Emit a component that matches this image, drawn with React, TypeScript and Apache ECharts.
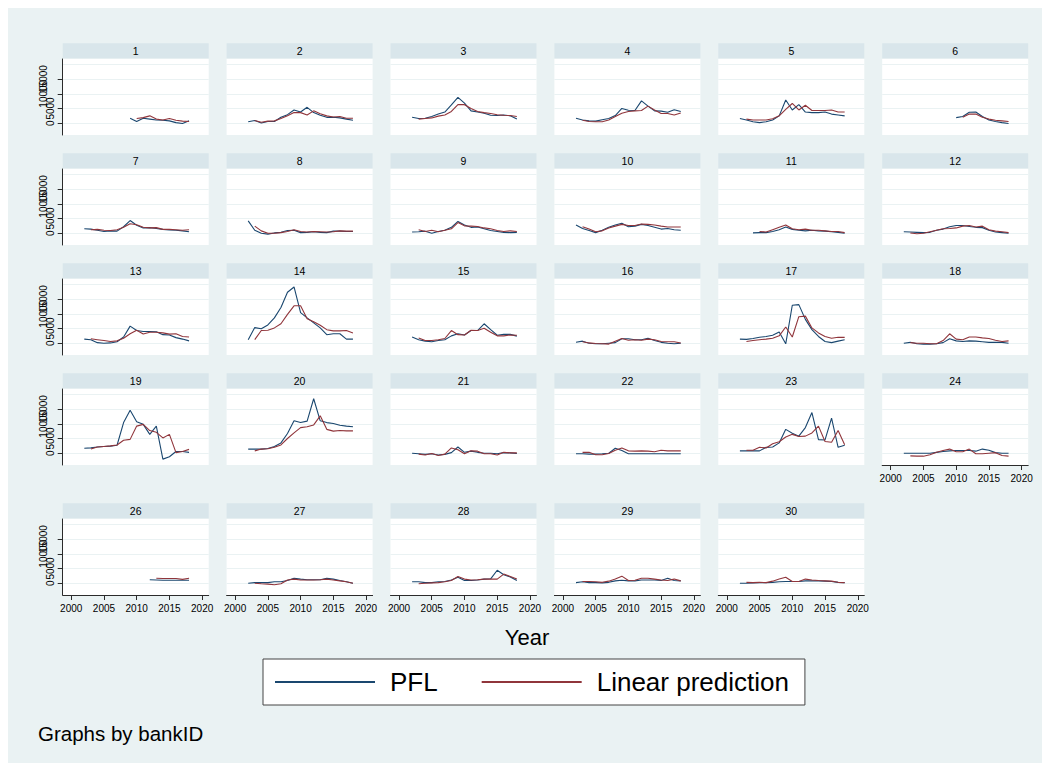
import { useEffect, useRef } from "react";
import * as echarts from "echarts";

// ---------- data ----------
const years = [2002, 2003, 2004, 2005, 2006, 2007, 2008, 2009, 2010, 2011, 2012, 2013, 2014, 2015, 2016, 2017, 2018];
const panelIds = [1, 2, 3, 4, 5, 6, 7, 8, 9, 10, 11, 12, 13, 14, 15, 16, 17, 18, 19, 20, 21, 22, 23, 24, 26, 27, 28, 29, 30];
const xTickValues = [2000, 2005, 2010, 2015, 2020];
const yTickValues = [0, 5000, 10000, 15000, 20000];
const seriesNames = ["PFL", "Linear prediction"];

const N = null;
const pfl01 = [N, N, N, N, N, N, N, 1700, 600, 1700, 1400, 1100, 1000, 800, 200, -100, 800];
const pred01 = [N, N, N, N, N, N, N, N, 1600, 1900, 2500, 1400, 1100, 1600, 1000, 700, 600];
const pfl02 = [500, 900, 100, 600, 600, 2000, 2900, 4500, 3800, 5400, 3600, 2700, 2000, 2000, 1800, 1400, 1000];
const pred02 = [N, 900, 300, 700, 800, 1600, 2500, 3600, 3600, 2800, 4200, 3200, 2500, 2100, 2300, 1700, 1700];
const pfl03 = [2000, 1600, 1700, 2300, 3100, 3800, 6200, 8800, 6800, 4200, 3800, 3400, 2700, 2600, 2800, 2500, 1400];
const pred03 = [N, 1400, 1600, 1800, 2400, 2800, 4000, 6300, 6300, 5000, 4000, 3600, 3300, 2900, 2700, 2600, 2300];
const pfl04 = [1700, 1100, 800, 700, 1200, 1600, 2600, 5000, 4400, 4300, 7600, 5800, 4200, 4100, 3700, 4600, 4000];
const pred04 = [N, 1000, 600, 500, 500, 1100, 2300, 3400, 4000, 4200, 4300, 5800, 4500, 3300, 3300, 2800, 3500];
const pfl05 = [1600, 1100, 500, 200, 500, 1100, 2500, 7900, 4500, 6300, 3800, 3600, 3600, 3800, 3100, 2800, 2500];
const pred05 = [N, 1400, 1100, 1100, 1100, 1500, 2500, 4700, 6700, 4500, 6100, 4300, 4300, 4300, 4500, 3800, 3800];
const pfl06 = [N, N, N, N, N, N, N, N, 1900, 2300, 3700, 3800, 2300, 1100, 600, 200, -100];
const pred06 = [N, N, N, N, N, N, N, N, N, 2000, 3100, 3100, 2000, 1400, 1000, 800, 600];
const pfl07 = [1500, 1400, 1000, 600, 800, 700, 2200, 4300, 2700, 1800, 1900, 1600, 1300, 1100, 1000, 800, 500];
const pred07 = [N, 1200, 1300, 1000, 900, 1200, 2000, 3200, 2900, 2000, 1800, 1900, 1300, 1300, 1200, 1000, 1200];
const pfl08 = [4200, 1000, 0, -300, 100, 300, 900, 1000, 200, 300, 500, 300, 200, 700, 700, 600, 600];
const pred08 = [N, 2400, 800, 0, 0, 200, 600, 1200, 600, 400, 600, 500, 400, 500, 800, 700, 700];
const pfl09 = [400, 500, 700, 0, 600, 1000, 2000, 4000, 2800, 2000, 2100, 1500, 900, 600, 300, 200, 300];
const pred09 = [N, 1200, 600, 1000, 500, 1000, 1500, 3600, 2500, 2400, 2300, 1800, 1500, 900, 600, 800, 600];
const pfl10 = [2800, 1600, 900, 200, 1000, 2000, 2800, 3400, 2200, 2400, 3000, 2600, 2000, 1400, 1600, 1200, 1000];
const pred10 = [N, 2200, 1400, 500, 800, 1800, 2400, 3000, 2600, 2600, 3100, 3000, 2800, 2400, 2100, 2100, 2100];
const pfl11 = [N, N, 100, 200, 200, 600, 1200, 2100, 1300, 1000, 800, 1000, 800, 700, 500, 300, 0];
const pred11 = [N, N, N, 600, 400, 1200, 2000, 2800, 1500, 1200, 1400, 1000, 1000, 800, 600, 600, 200];
const pfl12 = [500, 400, 300, 200, 300, 1000, 1400, 2200, 2600, 2600, 2300, 2000, 1900, 1000, 400, 200, 0];
const pred12 = [N, 100, -200, 0, 500, 1000, 1500, 1600, 1800, 2400, 2600, 2100, 2400, 1200, 700, 500, 200];
const pfl13 = [1400, 1200, 200, 0, 100, 500, 2100, 5800, 4300, 4000, 4000, 3900, 2900, 2800, 1900, 1400, 800];
const pred13 = [N, 1500, 1200, 900, 600, 800, 1700, 3200, 4400, 3100, 3700, 3700, 3500, 3100, 3200, 2300, 2100];
const pfl14 = [1200, 5300, 4900, 6200, 8600, 12100, 17300, 19100, 10400, 8600, 6900, 5200, 2900, 3200, 3200, 1400, 1400];
const pred14 = [N, 1200, 4300, 4400, 5200, 6600, 9800, 12700, 12700, 8300, 7300, 6100, 4600, 4200, 4200, 4300, 3500];
const pfl15 = [2100, 1200, 700, 500, 900, 1200, 2500, 3200, 2800, 4300, 4300, 6600, 4600, 2700, 3000, 3000, 2400];
const pred15 = [N, 1800, 900, 900, 1200, 1600, 4300, 2900, 2800, 4400, 4300, 5100, 3700, 2500, 2500, 2800, 2700];
const pfl16 = [300, 700, 0, -200, -200, 0, 200, 1500, 1500, 1200, 1200, 1700, 900, 300, 0, -200, 0];
const pred16 = [N, 500, 100, -100, -200, -300, 700, 1600, 1000, 1200, 1000, 1400, 1200, 600, 500, 500, 100];
const pfl17 = [1400, 1300, 1600, 2000, 2300, 2700, 3800, -200, 12900, 13100, 8100, 4600, 2300, 600, 200, 700, 1200];
const pred17 = [N, 600, 900, 1200, 1400, 1700, 2500, 5500, 2100, 9000, 9200, 5200, 3500, 2300, 1700, 2000, 2000];
const pfl18 = [0, 300, -200, -300, -300, -200, 200, 1500, 800, 600, 800, 700, 500, 300, 300, 300, 0];
const pred18 = [N, 200, 0, 0, -200, -200, 900, 3200, 1400, 1200, 2100, 2100, 1800, 1600, 1000, 600, 800];
const pfl19 = [1700, 1800, 2100, 2300, 2400, 2700, 10400, 14600, 10700, 9800, 6400, 9200, -2000, -1200, 600, 600, 300];
const pred19 = [N, 1400, 2100, 2300, 2500, 2800, 4400, 4700, 9200, 9800, 7700, 7100, 5200, 6400, 200, 600, 1300];
const pfl20 = [1400, 1400, 1400, 1600, 2300, 3500, 6700, 11000, 10400, 10900, 18500, 11000, 10400, 10100, 9500, 9200, 9000];
const pred20 = [N, 800, 1400, 1500, 2000, 2800, 5000, 6900, 8700, 9000, 9600, 12700, 8100, 7500, 7700, 7600, 7600];
const pfl21 = [0, -200, -400, -200, -600, -400, 200, 2100, 300, 700, 300, 0, 0, -200, 200, 100, -100];
const pred21 = [N, -300, -600, -100, -800, -300, 1800, 1200, -200, 800, 700, -200, -200, -600, 300, 100, 100];
const pfl22 = [-200, -200, -300, -300, -200, 0, 1700, 900, -200, -200, -200, -200, -200, -200, -200, -200, -200];
const pred22 = [N, 300, 300, -500, -500, -100, 1000, 1800, 800, 700, 800, 700, 500, 1000, 800, 800, 800];
const pfl23 = [800, 800, 800, 800, 2000, 2100, 3500, 8100, 6800, 5800, 8700, 13800, 4600, 4500, 11900, 2000, 2700];
const pred23 = [N, 1000, 1000, 2000, 1800, 3200, 3900, 5500, 6400, 5700, 5800, 6900, 9200, 4000, 3700, 7700, 2900];
const pfl24 = [0, 0, 0, 0, 0, 300, 600, 800, 900, 900, 900, 700, 1400, 1000, 200, 0, 0];
const pred24 = [N, -900, -1000, -1000, -500, 300, 900, 1400, 500, 500, 1400, -200, -200, 0, 200, -800, -1000];
const pfl26 = [N, N, N, N, N, N, N, N, N, N, 1200, 1100, 1000, 1000, 1000, 1000, 1000];
const pred26 = [N, N, N, N, N, N, N, N, N, N, N, 1700, 1600, 1600, 1600, 1300, 1700];
const pfl27 = [0, 200, 200, 200, 500, 500, 900, 1700, 1400, 1200, 1200, 1200, 1700, 1400, 900, 500, 0];
const pred27 = [N, 0, -200, -300, -500, -200, 1100, 1400, 1100, 1100, 1100, 1200, 1400, 1100, 800, 500, 0];
const pfl28 = [500, 500, 200, 200, 500, 600, 1100, 2000, 900, 900, 1100, 1400, 1500, 4400, 2900, 2100, 900];
const pred28 = [N, -200, 0, 100, 200, 500, 900, 2300, 1400, 1100, 1200, 1400, 1400, 1400, 3100, 2300, 1400];
const pfl29 = [200, 500, 200, 200, 100, 300, 800, 1000, 800, 800, 1100, 1100, 1100, 900, 1700, 900, 800];
const pred29 = [N, 600, 600, 500, 300, 700, 1400, 2400, 900, 1000, 1700, 1700, 1400, 1100, 900, 1400, 800];
const pfl30 = [0, 0, 100, 200, 200, 300, 500, 600, 600, 600, 800, 800, 800, 700, 600, 300, 200];
const pred30 = [N, 300, 200, 300, 200, 700, 1400, 2000, 600, 600, 1400, 1100, 900, 800, 700, 300, 200];

const pflByPanel: Record<number, (number | null)[]> = {
  1: pfl01, 2: pfl02, 3: pfl03, 4: pfl04, 5: pfl05, 6: pfl06, 7: pfl07, 8: pfl08, 9: pfl09, 10: pfl10,
  11: pfl11, 12: pfl12, 13: pfl13, 14: pfl14, 15: pfl15, 16: pfl16, 17: pfl17, 18: pfl18, 19: pfl19, 20: pfl20,
  21: pfl21, 22: pfl22, 23: pfl23, 24: pfl24, 26: pfl26, 27: pfl27, 28: pfl28, 29: pfl29, 30: pfl30,
};
const predByPanel: Record<number, (number | null)[]> = {
  1: pred01, 2: pred02, 3: pred03, 4: pred04, 5: pred05, 6: pred06, 7: pred07, 8: pred08, 9: pred09, 10: pred10,
  11: pred11, 12: pred12, 13: pred13, 14: pred14, 15: pred15, 16: pred16, 17: pred17, 18: pred18, 19: pred19, 20: pred20,
  21: pred21, 22: pred22, 23: pred23, 24: pred24, 26: pred26, 27: pred27, 28: pred28, 29: pred29, 30: pred30,
};

// ---------- style / layout ----------
const FONT = '"Liberation Sans", Arial, Helvetica, sans-serif';
const BG = "rgb(234,242,243)";
const HEADER_BG = "rgb(217,230,235)";
const GRID_LINE = "rgb(234,242,243)";
const NAVY = "#1a476f";
const MAROON = "#90353b";
const AXIS = "#2b2b2b";

const COL0 = 54.7;
const COL_PITCH = 163.9;
const PANEL_W = 146;
const HEADER_TOPS = [35.3, 145.3, 255.3, 365.3, 495.3];
const HEADER_H = 15;
const PLOT_OFFSET = 15.7;
const PLOT_H = 76;

function panelPos(n: number) {
  if (n <= 24) return { row: Math.floor((n - 1) / 6), col: (n - 1) % 6 };
  return { row: 4, col: n - 26 };
}

function toPairs(vals: (number | null)[]) {
  const out: [number, number][] = [];
  vals.forEach((v, i) => {
    if (v !== null) out.push([years[i], v]);
  });
  return out;
}

function buildOption() {
  const grid: any[] = [];
  const xAxis: any[] = [];
  const yAxis: any[] = [];
  const series: any[] = [];
  const graphic: any[] = [];

  panelIds.forEach((n, k) => {
    const { row, col } = panelPos(n);
    const left = COL0 + col * COL_PITCH;
    const headerTop = HEADER_TOPS[row];
    const top = headerTop + PLOT_OFFSET;
    const isLeft = col === 0;
    const isBottom = n >= 26 || n === 24;

    grid.push({
      left, top, width: PANEL_W, height: PLOT_H,
      show: true, backgroundColor: "#ffffff", borderWidth: 0, containLabel: false,
    });

    xAxis.push({
      type: "value", gridIndex: k, min: 1998.7, max: 2021,
      axisLine: { show: isBottom, onZero: false, lineStyle: { color: AXIS, width: 1 } },
      axisTick: { show: isBottom, length: 5, customValues: xTickValues, lineStyle: { color: AXIS, width: 1 } },
      axisLabel: {
        show: isBottom, customValues: xTickValues, formatter: (v: number) => String(v),
        fontSize: 10, color: "#000", margin: 8, fontFamily: FONT, hideOverlap: false,
      },
      splitLine: { show: false },
    });

    yAxis.push({
      type: "value", gridIndex: k, min: -4000, max: 21800,
      axisLine: { show: isLeft, onZero: false, lineStyle: { color: AXIS, width: 1 } },
      axisTick: { show: isLeft, length: 5, customValues: yTickValues, lineStyle: { color: AXIS, width: 1 } },
      axisLabel: {
        show: isLeft, customValues: yTickValues, rotate: 90,
        formatter: (v: number) => (v >= 10000 ? `{big|${v}}` : `{small|${v}}`),
        rich: {
          small: { fontSize: 10, fontFamily: FONT, color: "#000" },
          big: { fontSize: 10, fontFamily: FONT, color: "#000", padding: [0, 0, 7, 0] },
        },
        fontSize: 10, color: "#000", margin: 7, fontFamily: FONT, hideOverlap: false,
      },
      splitLine: { show: true, lineStyle: { color: GRID_LINE, width: 1 } },
    });

    series.push({
      type: "line", name: seriesNames[0], xAxisIndex: k, yAxisIndex: k,
      data: toPairs(pflByPanel[n]), symbol: "none", showSymbol: false, silent: true,
      lineStyle: { color: NAVY, width: 1.1 }, itemStyle: { color: NAVY }, z: 3,
    });
    series.push({
      type: "line", name: seriesNames[1], xAxisIndex: k, yAxisIndex: k,
      data: toPairs(predByPanel[n]), symbol: "none", showSymbol: false, silent: true,
      lineStyle: { color: MAROON, width: 1.1 }, itemStyle: { color: MAROON }, z: 4,
    });

    graphic.push({
      type: "rect", left, top: headerTop, silent: true,
      shape: { x: 0, y: 0, width: PANEL_W, height: HEADER_H },
      style: { fill: HEADER_BG },
    });
    graphic.push({
      type: "text", x: left + PANEL_W / 2, y: headerTop + HEADER_H / 2, silent: true,
      style: {
        text: String(n), textAlign: "center", textVerticalAlign: "middle",
        align: "center", verticalAlign: "middle",
        fontSize: 10.5, fontFamily: FONT, fill: "#000",
      },
    });
  });

  graphic.push({
    type: "text", x: 519, y: 629, silent: true,
    style: {
      text: "Year", textAlign: "center", textVerticalAlign: "middle", align: "center", verticalAlign: "middle",
      fontSize: 22, fontFamily: FONT, fill: "#000",
    },
  });
  graphic.push({
    type: "text", x: 30, y: 725, silent: true,
    style: {
      text: "Graphs by bankID", textAlign: "left", textVerticalAlign: "middle", align: "left", verticalAlign: "middle",
      fontSize: 20.5, fontFamily: FONT, fill: "#000",
    },
  });

  return {
    animation: false,
    backgroundColor: BG,
    textStyle: { fontFamily: FONT },
    grid, xAxis, yAxis, series, graphic,
    legend: {
      data: seriesNames.map((name) => ({ name, icon: "rect" })),
      left: 255, top: 651, orient: "horizontal",
      itemWidth: 100, itemHeight: 2, itemGap: 44,
      padding: [10, 16, 10, 12], borderColor: "#444", borderWidth: 1, backgroundColor: "#fff",
      selectedMode: false,
      textStyle: { fontSize: 26, color: "#000", fontFamily: FONT, padding: [0, 0, 0, 10] },
    },
  };
}

export default function App() {
  const ref = useRef<HTMLDivElement>(null);
  useEffect(() => {
    if (!ref.current) return;
    const chart = echarts.init(ref.current, null, { renderer: "svg" });
    chart.setOption(buildOption());
    return () => chart.dispose();
  }, []);
  return <div ref={ref} style={{ width: 1034, height: 755 }} />;
}
